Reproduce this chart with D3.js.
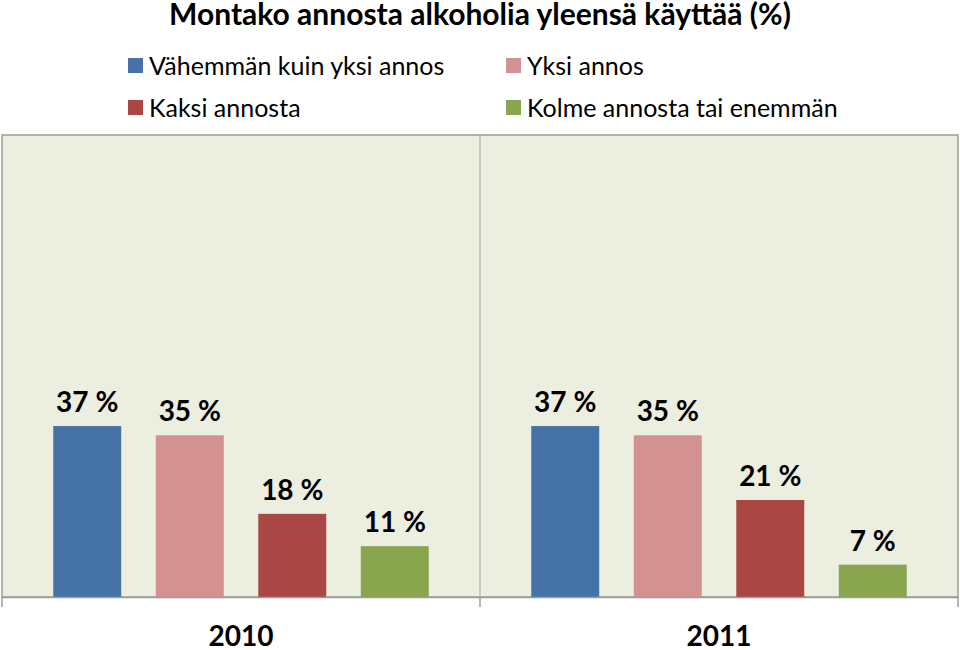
<!DOCTYPE html>
<html><head><meta charset="utf-8">
<script src="https://cdn.jsdelivr.net/npm/d3@7"></script>
<style>body{margin:0;background:#fff}svg{display:block}text{font-family:Lato,"Liberation Sans",sans-serif}</style>
</head><body><svg id="c" width="960" height="650"></svg>
<script>
const years = ["2010", "2011"];
const categories = ["Vähemmän kuin yksi annos", "Yksi annos", "Kaksi annosta", "Kolme annosta tai enemmän"];
const values2010 = [37, 35, 18, 11];
const values2011 = [37, 35, 21, 7];
const colors = ["#4572A7", "#D39192", "#AA4643", "#89A54E"];
const title = "Montako annosta alkoholia yleensä käyttää (%)";

const seriesByYear = {"2010": values2010, "2011": values2011};
const svg = d3.select("#c");
const plot = {l: 2, r: 958, t: 135, b: 597};

const x0 = d3.scaleBand().domain(years).range([plot.l, plot.r]).padding(0);
const x1 = d3.scaleBand().domain(categories).range([0, x0.bandwidth()]).paddingInner(0.337).paddingOuter(0.5);
const y = d3.scaleLinear().domain([0, 100]).range([plot.b, plot.t]);
const color = d3.scaleOrdinal().domain(categories).range(colors);

// title
svg.append("text").attr("x", 480).attr("y", 25).attr("text-anchor", "middle")
  .attr("font-size", 30).attr("font-weight", "bold").attr("fill", "#000").text(title);

// legend
const legPos = [[128, 58], [506, 58], [128, 100], [506, 100]];
categories.forEach((c, i) => {
  const g = svg.append("g").attr("transform", `translate(${legPos[i][0]},${legPos[i][1]})`);
  g.append("rect").attr("width", 15).attr("height", 15).attr("fill", color(c));
  g.append("text").attr("x", 21).attr("y", 17).attr("font-size", 25).attr("fill", "#000").text(c);
});

// plot background
svg.append("rect").attr("x", plot.l).attr("y", plot.t).attr("width", plot.r - plot.l).attr("height", plot.b - plot.t)
  .attr("fill", "#ECEEDF").attr("stroke", "#9B9E96").attr("stroke-width", 1.5);

// divider between groups
svg.append("line").attr("x1", x0("2011")).attr("x2", x0("2011")).attr("y1", plot.t).attr("y2", plot.b)
  .attr("stroke", "#A5A8A0").attr("stroke-width", 1);

// bars
const groups = svg.selectAll("g.year").data(years).join("g").attr("class", "year")
  .attr("transform", d => `translate(${x0(d)},0)`);
groups.selectAll("rect").data(yr => categories.map((c, i) => ({c, v: seriesByYear[yr][i]}))).join("rect")
  .attr("x", d => x1(d.c)).attr("width", x1.bandwidth())
  .attr("y", d => y(d.v)).attr("height", d => y(0) - y(d.v))
  .attr("fill", d => color(d.c));
groups.selectAll("text.lbl").data(yr => categories.map((c, i) => ({c, v: seriesByYear[yr][i]}))).join("text")
  .attr("class", "lbl").attr("x", d => x1(d.c) + x1.bandwidth() / 2).attr("y", d => y(d.v) - 14)
  .attr("text-anchor", "middle").attr("font-size", 28).attr("font-weight", "bold").attr("fill", "#000")
  .text(d => d.v + " %");

// x axis
const ax = svg.append("g").attr("transform", `translate(0,${plot.b})`)
  .call(d3.axisBottom(x0).tickSize(0).tickPadding(29));
ax.select(".domain").attr("stroke", "#9B9E96").attr("stroke-width", 1.5);
ax.selectAll("text").attr("font-size", 28).attr("font-weight", "bold").attr("fill", "#000")
  .attr("font-family", "Lato, 'Liberation Sans', sans-serif").attr("dy", "0.71em");
// boundary ticks
const bounds = [plot.l, x0("2011"), plot.r];
ax.selectAll("line.bt").data(bounds).join("line").attr("class", "bt")
  .attr("x1", d => d).attr("x2", d => d).attr("y1", 0).attr("y2", 10).attr("stroke", "#9B9E96").attr("stroke-width", 1.5);
</script></body></html>
